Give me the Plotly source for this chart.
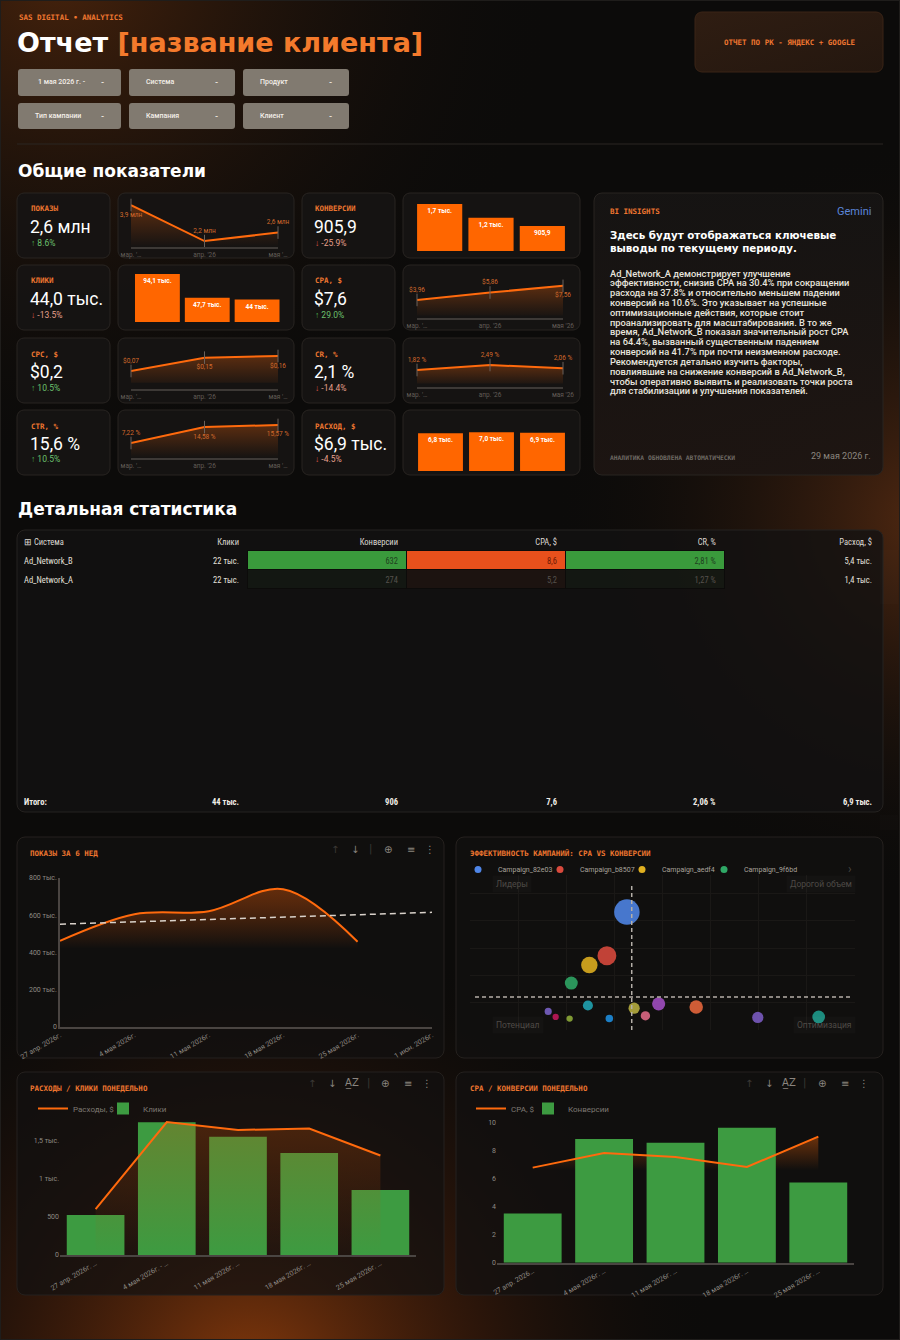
import base64
import numpy as np
import pandas as pd
import plotly.graph_objects as go

W, H = 900, 1340
def X(x): return x / W
def Y(y): return 1 - y / H

ORANGE_TXT = "#ee7630"
ORANGE = "#ff6a0d"
BAR_OR = "#ff6600"
GREEN = "#3d9b41"
MONO = "DejaVu Sans Mono"
SANS = "Roboto"
WIDE = "DejaVu Sans"
NARROW = "Liberation Sans Narrow, Roboto Condensed, Roboto"
GRAY = "#8f8a84"

# ================= DATA =================
filters_row1 = ["1 мая 2026 г. -", "Система", "Продукт"]
filters_row2 = ["Тип кампании", "Кампания", "Клиент"]

kpi_left_labels = ["ПОКАЗЫ", "КЛИКИ", "CPC, $", "CTR, %"]
kpi_left_values = ["2,6 млн", "44,0 тыс.", "$0,2", "15,6 %"]
kpi_left_deltas = [8.6, -13.5, 10.5, 10.5]
kpi_right_labels = ["КОНВЕРСИИ", "CPA, $", "CR, %", "РАСХОД, $"]
kpi_right_values = ["905,9", "$7,6", "2,1 %", "$6,9 тыс."]
kpi_right_deltas = [-25.9, 29.0, -14.4, -4.5]

months_a = ["мар. '…", "апр. '26", "мая '…"]
months_b = ["мар. '…", "апр. '26", "мая '26"]
impr_month = [3.9, 2.2, 2.6]
impr_month_lbl = ["3,9 млн", "2,2 млн", "2,6 млн"]
clicks_month = [94.1, 47.7, 44.0]
clicks_month_lbl = ["94,1 тыс.", "47,7 тыс.", "44 тыс."]
cpc_month = [0.07, 0.15, 0.16]
cpc_month_lbl = ["$0,07", "$0,15", "$0,16"]
ctr_month = [7.22, 14.58, 15.57]
ctr_month_lbl = ["7,22 %", "14,58 %", "15,57 %"]
conv_month = [1700, 1200, 905.9]
conv_month_lbl = ["1,7 тыс.", "1,2 тыс.", "905,9"]
cpa_month = [3.96, 5.86, 7.56]
cpa_month_lbl = ["$3,96", "$5,86", "$7,56"]
cr_month = [1.82, 2.49, 2.06]
cr_month_lbl = ["1,82 %", "2,49 %", "2,06 %"]
spend_month = [6.8, 7.0, 6.9]
spend_month_lbl = ["6,8 тыс.", "7,0 тыс.", "6,9 тыс."]

insight_heading = ["Здесь будут отображаться ключевые", "выводы по текущему периоду."]
insight_lines = [
    "Ad_Network_A демонстрирует улучшение",
    "эффективности, снизив CPA на 30.4% при сокращении",
    "расхода на 37.8% и относительно меньшем падении",
    "конверсий на 10.6%. Это указывает на успешные",
    "оптимизационные действия, которые стоит",
    "проанализировать для масштабирования. В то же",
    "время, Ad_Network_B показал значительный рост CPA",
    "на 64.4%, вызванный существенным падением",
    "конверсий на 41.7% при почти неизменном расходе.",
    "Рекомендуется детально изучить факторы,",
    "повлиявшие на снижение конверсий в Ad_Network_B,",
    "чтобы оперативно выявить и реализовать точки роста",
    "для стабилизации и улучшения показателей.",
]
insight_footer = "АНАЛИТИКА ОБНОВЛЕНА АВТОМАТИЧЕСКИ"
insight_date = "29 мая 2026 г."

tbl_header = ["⊞ Система", "Клики", "Конверсии", "CPA, $", "CR, %", "Расход, $"]
tbl_system = ["Ad_Network_B", "Ad_Network_A"]
tbl_clicks = ["22 тыс.", "22 тыс."]
tbl_conv = [632, 274]
tbl_cpa = [8.6, 5.2]
tbl_cr = [2.81, 1.27]
tbl_spend = ["5,4 тыс.", "1,4 тыс."]
tbl_total = ["Итого:", "44 тыс.", "906", "7,6", "2,06 %", "6,9 тыс."]

impr_weeks = ["2026-04-27", "2026-05-04", "2026-05-11", "2026-05-18", "2026-05-25"]
impr_weekly = [462000, 605000, 622000, 740000, 458000]
date_ticks = ["2026-04-27", "2026-05-04", "2026-05-11", "2026-05-18", "2026-05-25", "2026-06-01"]
date_tick_text = ["27 апр. 2026г.", "4 мая 2026г.", "11 мая 2026г.", "18 мая 2026г.", "25 мая 2026г.", "1 июн. 2026г."]
impr_y_ticks = [0, 200000, 400000, 600000, 800000]
impr_y_text = ["0", "200 тыс.", "400 тыс.", "600 тыс.", "800 тыс."]

camp_names = ["Campaign_82e03", "Campaign_b8507", "Campaign_aedf4", "Campaign_9f6bd",
              "Campaign_3c1a7", "Campaign_7d20e", "Campaign_e41b9", "Campaign_5a8f2",
              "Campaign_c06d4", "Campaign_19be3", "Campaign_f2c58", "Campaign_6e9a1",
              "Campaign_d7435", "Campaign_0b6fc", "Campaign_a93e8"]
camp_cpa = [6.52, 5.69, 4.96, 4.21, 4.90, 3.25, 3.56, 4.14, 5.79, 6.82, 7.29, 7.84, 9.40, 11.96, 14.49]
camp_conv = [216, 136, 119, 86, 45, 34, 24, 21, 21, 40, 26, 48, 42, 23, 24]
quadrant_labels = ["Лидеры", "Дорогой объем", "Потенциал", "Оптимизация"]

week_cats = ["27 апр. – 3 мая", "4 – 10 мая", "11 – 17 мая", "18 – 24 мая", "25 – 31 мая"]
week_lbl_spend = ["27 апр. 2026г. …", "4 мая 2026г. - …", "11 мая 2026г. …", "18 мая 2026г. …", "25 мая 2026г. …"]
week_lbl_cpa = ["27 апр. 2026…", "4 мая 2026г. …", "11 мая 2026г. …", "18 мая 2026г. …", "25 мая 2026г. …"]
spend_weekly = [605, 1750, 1645, 1665, 1309]
clicks_weekly = [3850, 12750, 11350, 9800, 6250]
cpa_weekly = [6.79, 7.84, 7.55, 6.84, 9.0]
conv_weekly = [88, 221, 214, 241, 143]
spend_y_ticks = [0, 500, 1000, 1500]
spend_y_text = ["0", "500", "1 тыс.", "1,5 тыс."]
cpa_y_ticks = [0, 2, 4, 6, 8, 10]

# ================= BACKGROUND (decor only) =================
def rr(x0, y0, x1, y1, r, fill, stroke="none", sw=1, op=1.0):
    return (f'<rect x="{x0}" y="{y0}" width="{x1-x0}" height="{y1-y0}" rx="{r}" ry="{r}" '
            f'fill="{fill}" fill-opacity="{op}" stroke="{stroke}" stroke-width="{sw}"/>')

svg = ['<svg xmlns="http://www.w3.org/2000/svg" width="900" height="1340" viewBox="0 0 900 1340" preserveAspectRatio="none">',
       '<defs>',
       '<radialGradient id="gbl" gradientUnits="userSpaceOnUse" cx="250" cy="1380" r="470">'
       '<stop offset="0" stop-color="#8c3c0c" stop-opacity="0.95"/>'
       '<stop offset="0.5" stop-color="#52220a" stop-opacity="0.45"/>'
       '<stop offset="1" stop-color="#0c0b0a" stop-opacity="0"/></radialGradient>',
       '<radialGradient id="gr" gradientUnits="userSpaceOnUse" cx="930" cy="520" r="380">'
       '<stop offset="0" stop-color="#5e2e12" stop-opacity="0.85"/>'
       '<stop offset="1" stop-color="#0c0b0a" stop-opacity="0"/></radialGradient>',
       '<radialGradient id="gtl" gradientUnits="userSpaceOnUse" cx="60" cy="-30" r="500">'
       '<stop offset="0" stop-color="#4a240c" stop-opacity="0.95"/>'
       '<stop offset="1" stop-color="#0c0b0a" stop-opacity="0"/></radialGradient>',
       '<linearGradient id="gins" x1="0" y1="0" x2="0" y2="1">'
       '<stop offset="0" stop-color="#161413"/><stop offset="1" stop-color="#1d1512"/></linearGradient>',
       '<linearGradient id="gbadge" x1="0" y1="0" x2="1" y2="1">'
       '<stop offset="0" stop-color="#2f1d12"/><stop offset="1" stop-color="#24170f"/></linearGradient>',
       '</defs>',
       '<rect width="900" height="1340" fill="#0c0b0a"/>',
       '<rect width="900" height="1340" fill="url(#gtl)"/>',
       '<rect width="900" height="1340" fill="url(#gr)"/>',
       '<rect width="900" height="1340" fill="url(#gbl)"/>',
       '<rect x="0.5" y="0.5" width="899" height="1339" fill="none" stroke="#1f1d1b" stroke-width="1"/>']
for row_y, row in [((69, 96), filters_row1), ((103, 129), filters_row2)]:
    for (bx0, bx1) in [(18, 121), (129, 235), (243, 349)]:
        svg.append(rr(bx0, row_y[0], bx1, row_y[1], 3, "#817a70"))
svg.append(rr(695, 12, 883, 72, 7, "url(#gbadge)", "#3a2416", 1))
svg.append('<line x1="17" y1="144" x2="883" y2="144" stroke="#2a2623" stroke-width="1"/>')
for top in [193, 265, 338, 410]:
    for (cx0, cx1) in [(17, 110), (118, 294), (302, 395), (403, 580)]:
        svg.append(rr(cx0, top, cx1, top + 65, 7, "#161413", "#282421", 1, 0.9))
svg.append(rr(594, 193, 883, 475, 8, "url(#gins)", "#282421", 1, 0.95))
svg.append(rr(17, 530, 883, 812, 8, "#131211", "#252220", 1, 0.8))
for (px0, py0, px1, py1) in [(17, 837, 444, 1058), (456, 837, 883, 1058), (17, 1072, 444, 1295), (456, 1072, 883, 1295)]:
    svg.append(rr(px0, py0, px1, py1, 8, "#121110", "#25211e", 1, 0.72))
svg.append('</svg>')
svg_b64 = base64.b64encode("".join(svg).encode("utf-8")).decode("ascii")

# ================= FIGURE =================
fig = go.Figure()
layout = {}
ann = []

def txt(x, y, s, size=8, color="#ffffff", family=SANS, xa="left", ya="middle", weight="normal", bg=None):
    d = dict(x=X(x), y=Y(y), xref="paper", yref="paper", text=s, showarrow=False,
             xanchor=xa, yanchor=ya, align="left" if xa == "left" else ("right" if xa == "right" else "center"),
             font=dict(size=size, color=color, family=family, weight=weight))
    if bg:
        d["bgcolor"] = bg
        d["borderpad"] = 3
    ann.append(d)

# header
txt(17, 17, "SAS DIGITAL • ANALYTICS", 7.5, ORANGE_TXT, MONO, weight="bold")
txt(15, 42, "Отчет <span style='color:#f47a2c'>[название клиента]</span>", 27, "#ffffff", WIDE, weight="bold")
for row_y, row in [(82.5, filters_row1), (116, filters_row2)]:
    for (bx0, bx1), s in zip([(18, 121), (129, 235), (243, 349)], row):
        if s.startswith("1 мая"):
            txt(36, row_y, s, 7, "#f4efe9", SANS, weight=500)
        else:
            txt(bx0 + 15, row_y, s, 7, "#f4efe9", SANS, weight=500)
        txt(bx1 - 19, row_y, "-", 8, "#f4efe9", SANS, xa="center", weight="bold")
txt(789, 42, "ОТЧЕТ ПО РК - ЯНДЕКС + GOOGLE", 7.5, ORANGE_TXT, MONO, xa="center", weight="bold")
txt(16, 171, "Общие показатели", 17, "#ffffff", WIDE, weight="bold")
txt(16, 509, "Детальная статистика", 17, "#ffffff", WIDE, weight="bold")

rows_top = [193, 265, 338, 410]
for x0, labels, values, deltas in [(29, kpi_left_labels, kpi_left_values, kpi_left_deltas),
                                   (313, kpi_right_labels, kpi_right_values, kpi_right_deltas)]:
    for top, lab, val, d in zip(rows_top, labels, values, deltas):
        txt(x0, top + 16, lab, 7.5, ORANGE_TXT, MONO, weight="bold")
        txt(x0 - 1, top + 34, val, 17.5, "#ffffff", SANS)
        if d >= 0:
            txt(x0, top + 49.5, f"<span style='color:#4caf50'>↑</span> {d:.1f}%", 8.5, "#6cc06e", SANS)
        else:
            txt(x0, top + 49.5, f"<span style='color:#e05a4a'>↓</span> {d:.1f}%", 8.5, "#e6a08c", SANS)

def add_line_spark(n, cats, vals, labels, positions, xpx, ypx, yr):
    fig.add_trace(go.Scatter(
        x=cats, y=vals, xaxis=f"x{n}", yaxis=f"y{n}", mode="lines+markers+text",
        line=dict(color=ORANGE, width=2),
        marker=dict(symbol="line-ns", size=9, color="#6a615a", line=dict(color="#6a615a", width=1)),
        text=labels, textposition=positions,
        textfont=dict(size=6.5, color="#d2692c", family=SANS),
        fill="tozeroy",
        fillgradient=dict(type="vertical",
                          colorscale=[[0, "rgba(255,106,13,0)"], [1, "rgba(255,106,13,0.3)"]],
                          start=yr[0], stop=max(vals)),
        cliponaxis=False, showlegend=False, hoverinfo="skip"))
    layout[f"xaxis{n}"] = dict(domain=[X(xpx[0]), X(xpx[1])], anchor=f"y{n}", type="category",
                               range=[0, len(cats) - 1], showline=True, linecolor="#3d3936", linewidth=1.5,
                               ticks="", tickfont=dict(size=6.5, color="#625c57", family=SANS),
                               showgrid=False, zeroline=False, fixedrange=True)
    layout[f"yaxis{n}"] = dict(domain=[Y(ypx[1]), Y(ypx[0])], anchor=f"x{n}", range=list(yr),
                               visible=False, fixedrange=True)

def add_bar_spark(n, cats, vals, labels, xpx, ypx, yr, width):
    fig.add_trace(go.Bar(
        x=cats, y=vals, xaxis=f"x{n}", yaxis=f"y{n}", width=width,
        marker=dict(color=BAR_OR, line=dict(width=0)),
        text=labels, textposition="inside", insidetextanchor="end", textangle=0,
        textfont=dict(size=6.5, color="#ffffff", family=SANS, weight="bold"),
        showlegend=False, hoverinfo="skip"))
    layout[f"xaxis{n}"] = dict(domain=[X(xpx[0]), X(xpx[1])], anchor=f"y{n}", type="category",
                               range=[-0.5, len(cats) - 0.5], visible=False, fixedrange=True)
    layout[f"yaxis{n}"] = dict(domain=[Y(ypx[1]), Y(ypx[0])], anchor=f"x{n}", range=list(yr),
                               visible=False, fixedrange=True)

add_line_spark(1, months_a, impr_month, impr_month_lbl, ["bottom center", "top center", "top center"],
               (131, 278), (201, 247), (1.92, 4.09))
add_bar_spark(2, months_a, clicks_month, clicks_month_lbl, (132.5, 282), (268, 322), (0, 106), 0.9)
add_line_spark(3, months_a, cpc_month, cpc_month_lbl, ["top center", "bottom center", "bottom center"],
               (131, 278), (346, 389), (-0.038, 0.22))
add_line_spark(4, months_a, ctr_month, ctr_month_lbl, ["top center", "bottom center", "bottom center"],
               (131, 278), (418, 458), (0.26, 18.8))
add_bar_spark(5, months_b, conv_month, conv_month_lbl, (414, 568), (198, 251), (0, 1920), 0.88)
add_line_spark(6, months_b, cpa_month, cpa_month_lbl, ["top center", "top center", "bottom center"],
               (417, 563), (274, 318), (-0.67, 10.6))
add_line_spark(7, months_b, cr_month, cr_month_lbl, ["top center", "top center", "top center"],
               (417, 563), (346, 387), (-0.46, 5.04))
add_bar_spark(8, months_b, spend_month, spend_month_lbl, (415, 568), (425, 471), (0, 8.3), 0.88)

txt(608, 211, "BI INSIGHTS", 7.5, ORANGE_TXT, MONO, weight="bold")
txt(873, 211, "Gemini", 11, "#5b86da", SANS, xa="right")
for i, s in enumerate(insight_heading):
    txt(608, 235 + i * 13, s, 10.3, "#ffffff", WIDE, weight="bold")
for i, s in enumerate(insight_lines):
    txt(608, 273 + i * 9.83, s, 9.3, "#e8e4de", SANS, weight=500)
txt(608, 457, insight_footer, 6.3, "#6f6a64", MONO, weight="bold")
txt(873, 456, insight_date, 9, "#8a857f", SANS, xa="right")

# ================= TABLE =================
def heat(vals, rgb):
    lo, hi = min(vals), max(vals)
    out = []
    for v in vals:
        t = (v - lo) / (hi - lo) if hi > lo else 1.0
        out.append(f"rgba({rgb},{0.05 + 0.95 * t:.2f})")
    return out

def heat_font(vals, dark):
    lo, hi = min(vals), max(vals)
    return [dark if v == hi else "#55514c" for v in vals]

def fmt(v, d):
    return f"{v:.{d}f}".replace(".", ",")

clear = ["rgba(0,0,0,0)"] * len(tbl_system)
sep = ["#0c0b0a"] * len(tbl_system)
base_font = ["#e4e0da"] * len(tbl_system)
col_x = [16, 140, 247, 406, 565, 724, 880]
widths = list(np.diff(col_x))
fig.add_trace(go.Table(
    domain=dict(x=[X(col_x[0]), X(col_x[-1])], y=[Y(605), Y(531)]),
    columnwidth=widths,
    header=dict(values=tbl_header, align=["left"] + ["right"] * 5, height=19,
                fill_color="rgba(0,0,0,0)", line_color="rgba(0,0,0,0)",
                font=dict(family=NARROW, size=8.5, color="#dcd8d2")),
    cells=dict(values=[tbl_system, tbl_clicks, [str(v) for v in tbl_conv],
                       [fmt(v, 1) for v in tbl_cpa], [fmt(v, 2) + " %" for v in tbl_cr], tbl_spend],
               align=["left"] + ["right"] * 5, height=19,
               fill_color=[clear, clear, heat(tbl_conv, "58,154,60"), heat(tbl_cpa, "232,80,28"),
                           heat(tbl_cr, "58,154,60"), clear],
               line=dict(color=[clear, clear, sep, sep, sep, clear], width=1),
               font=dict(family=NARROW, size=8.5,
                         color=[base_font, base_font, heat_font(tbl_conv, "#1f3f1f"),
                                heat_font(tbl_cpa, "#6e1a06"), heat_font(tbl_cr, "#1f3f1f"), base_font]))))
fig.add_trace(go.Table(
    domain=dict(x=[X(col_x[0]), X(col_x[-1])], y=[Y(830), Y(789)]),
    columnwidth=widths,
    header=dict(values=[f"<b>{t}</b>" for t in tbl_total], align=["left"] + ["right"] * 5, height=19,
                fill_color="rgba(0,0,0,0)", line_color="rgba(0,0,0,0)",
                font=dict(family=NARROW, size=8.5, color="#f0ece6")),
    cells=dict(values=[[""] for _ in tbl_total], height=19, fill_color="rgba(0,0,0,0)",
               line_color="rgba(0,0,0,0)")))

# ================= PANEL 1 =================
TICKF = dict(size=7, color=GRAY, family=SANS)
fig.add_trace(go.Scatter(
    x=impr_weeks, y=impr_weekly, xaxis="x9", yaxis="y9", mode="lines",
    line=dict(color=ORANGE, width=2, shape="spline", smoothing=1.0),
    fill="tozeroy",
    fillgradient=dict(type="vertical", colorscale=[[0, "rgba(255,100,10,0)"], [1, "rgba(200,80,10,0.45)"]],
                      start=420000, stop=max(impr_weekly)),
    showlegend=False, hoverinfo="skip"))
days = (pd.to_datetime(impr_weeks) - pd.Timestamp(impr_weeks[0])).days.values
coef = np.polyfit(days, impr_weekly, 1)
span = (pd.Timestamp(date_ticks[-1]) - pd.Timestamp(date_ticks[0])).days
fig.add_trace(go.Scatter(
    x=[date_ticks[0], date_ticks[-1]], y=list(np.polyval(coef, [0, span])), xaxis="x9", yaxis="y9",
    mode="lines", line=dict(color="#d9d2ca", width=1.5, dash="6px,4px"), showlegend=False, hoverinfo="skip"))
layout["xaxis9"] = dict(domain=[X(60), X(432)], anchor="y9", type="date",
                        range=[date_ticks[0], date_ticks[-1]], tickvals=date_ticks, ticktext=date_tick_text,
                        tickangle=-30, tickfont=TICKF, showline=True, linecolor="#4a4542", linewidth=1.5,
                        ticks="", showgrid=False, zeroline=False, fixedrange=True, automargin=False)
layout["yaxis9"] = dict(domain=[Y(1027), Y(878)], anchor="x9", range=[0, 800000], tickvals=impr_y_ticks,
                        ticktext=impr_y_text, tickfont=TICKF, showline=True, linecolor="#4a4542",
                        linewidth=1.5, ticks="", showgrid=False, zeroline=False, fixedrange=True)
txt(28, 853, "ПОКАЗЫ ЗА 6 НЕД", 7.5, ORANGE_TXT, MONO, weight="bold")

# ================= PANEL 2 =================
spend_c = np.array(camp_cpa) * np.array(camp_conv)
camp_colors = ["#4f86e8", "#d94a3d", "#e0b020", "#2fa866", "#20a6b5", "#7a63c9", "#c2185b", "#8fae3a",
               "#1e90e0", "#b8b040", "#e06a88", "#a24fc4", "#e8683c", "#7b5cc4", "#1e9e8e"]
fig.add_trace(go.Scatter(
    x=camp_cpa, y=camp_conv, xaxis="x10", yaxis="y10", mode="markers",
    marker=dict(size=spend_c, sizemode="area", sizeref=4.34, color=camp_colors, opacity=0.88,
                line=dict(width=0)),
    text=camp_names, showlegend=False, hoverinfo="text"))
for i in range(4):
    fig.add_trace(go.Scatter(x=[None], y=[None], xaxis="x10", yaxis="y10", mode="markers",
                             marker=dict(size=7, color=camp_colors[i]), name=camp_names[i],
                             legend="legend", legendrank=10 + i, showlegend=True))

def spacer(leg, xa, ya):
    # invisible trailing entry that keeps the last legend label from being clipped
    fig.add_trace(go.Scatter(x=[None], y=[None], xaxis=xa, yaxis=ya, mode="markers",
                             marker=dict(size=1, color="rgba(0,0,0,0)"), name=" ",
                             legend=leg, legendrank=5000, showlegend=True))
spacer("legend", "x10", "y10")
layout["xaxis10"] = dict(domain=[X(470), X(855)], anchor="y10", range=[0, 16], dtick=2,
                         showgrid=True, gridcolor="#1a1816", showticklabels=False, zeroline=False,
                         showline=False, ticks="", fixedrange=True)
layout["yaxis10"] = dict(domain=[Y(1030), Y(875)], anchor="x10", range=[0, 284], dtick=50,
                         showgrid=True, gridcolor="#1a1816", showticklabels=False, zeroline=False,
                         showline=False, ticks="", fixedrange=True)
shapes = [
    dict(type="line", xref="x10", yref="paper", x0=float(np.mean(camp_cpa)), x1=float(np.mean(camp_cpa)),
         y0=Y(1030), y1=Y(884), line=dict(color="#b5afa8", width=1.5, dash="4px,3px")),
    dict(type="line", xref="paper", yref="y10", x0=X(475), x1=X(852),
         y0=float(np.mean(camp_conv)), y1=float(np.mean(camp_conv)),
         line=dict(color="#b5afa8", width=1.5, dash="4px,3px")),
]
txt(468, 853, "ЭФФЕКТИВНОСТЬ КАМПАНИЙ: CPA VS КОНВЕРСИИ", 7.5, ORANGE_TXT, MONO, weight="bold")
qcol = "#4e4a46"
txt(492, 884, quadrant_labels[0], 8.5, qcol, SANS, bg="rgba(255,255,255,0.02)")
txt(856, 884, quadrant_labels[1], 8.5, qcol, SANS, xa="right", bg="rgba(255,255,255,0.02)")
txt(492, 1025, quadrant_labels[2], 8.5, qcol, SANS, bg="rgba(255,255,255,0.02)")
txt(856, 1025, quadrant_labels[3], 8.5, qcol, SANS, xa="right", bg="rgba(255,255,255,0.02)")
txt(850, 869, "›", 12, "#4a4643", SANS, xa="center")

# ================= PANEL 3 =================
fig.add_trace(go.Bar(x=week_cats, y=clicks_weekly, xaxis="x11", yaxis="y11", width=0.81,
                     marker=dict(color=GREEN, line=dict(width=0)), name="Клики",
                     legend="legend2", legendrank=2, hoverinfo="skip"))
fig.add_trace(go.Scatter(x=week_cats, y=spend_weekly, xaxis="x11", yaxis="y12", mode="lines",
                         line=dict(width=0), fill="tozeroy",
                         fillgradient=dict(type="vertical",
                                           colorscale=[[0, "rgba(190,80,10,0)"], [1, "rgba(190,80,10,0.3)"]],
                                           start=0, stop=max(spend_weekly)),
                         showlegend=False, hoverinfo="skip"))
fig.add_trace(go.Scatter(x=week_cats, y=spend_weekly, xaxis="x11", yaxis="y12", mode="lines",
                         line=dict(color=ORANGE, width=2), name="Расходы, $",
                         legend="legend2", legendrank=1, hoverinfo="skip"))
spacer("legend2", "x11", "y11")
layout["xaxis11"] = dict(domain=[X(60), X(416)], anchor="y11", type="category", tickvals=week_cats,
                         ticktext=week_lbl_spend, tickangle=-30, tickfont=TICKF, showline=True,
                         linecolor="#4a4542", linewidth=1.5, ticks="", showgrid=False, zeroline=False,
                         fixedrange=True)
layout["yaxis11"] = dict(domain=[Y(1255), Y(1103)], anchor="x11", range=[0, 14600], visible=False,
                         fixedrange=True)
layout["yaxis12"] = dict(overlaying="y11", anchor="x11", side="left", range=[0, 2000],
                         tickvals=spend_y_ticks, ticktext=spend_y_text, tickfont=TICKF,
                         showgrid=False, zeroline=False, showline=False, ticks="", fixedrange=True)
txt(28, 1088, "РАСХОДЫ / КЛИКИ ПОНЕДЕЛЬНО", 7.5, ORANGE_TXT, MONO, weight="bold")

# ================= PANEL 4 =================
fig.add_trace(go.Scatter(x=week_cats, y=cpa_weekly, xaxis="x12", yaxis="y13", mode="lines",
                         line=dict(width=0), fill="tozeroy",
                         fillgradient=dict(type="vertical",
                                           colorscale=[[0, "rgba(190,80,10,0)"], [1, "rgba(200,85,10,0.5)"]],
                                           start=6.6, stop=max(cpa_weekly)),
                         showlegend=False, hoverinfo="skip"))
fig.add_trace(go.Bar(x=week_cats, y=conv_weekly, xaxis="x12", yaxis="y14", width=0.81,
                     marker=dict(color=GREEN, line=dict(width=0)), name="Конверсии",
                     legend="legend3", legendrank=2, hoverinfo="skip"))
fig.add_trace(go.Scatter(x=week_cats, y=cpa_weekly, xaxis="x12", yaxis="y15", mode="lines",
                         line=dict(color=ORANGE, width=2), name="CPA, $",
                         legend="legend3", legendrank=1, hoverinfo="skip"))
spacer("legend3", "x12", "y13")
layout["xaxis12"] = dict(domain=[X(497), X(854)], anchor="y13", type="category", tickvals=week_cats,
                         ticktext=week_lbl_cpa, tickangle=-30, tickfont=TICKF, showline=True,
                         linecolor="#4a4542", linewidth=1.5, ticks="", showgrid=False, zeroline=False,
                         fixedrange=True)
layout["yaxis13"] = dict(domain=[Y(1262.7), Y(1122.7)], anchor="x12", range=[0, 10], tickvals=cpa_y_ticks,
                         tickfont=TICKF, showgrid=False, zeroline=False, showline=False, ticks="",
                         fixedrange=True)
layout["yaxis14"] = dict(overlaying="y13", anchor="x12", range=[0, 250], visible=False, fixedrange=True)
layout["yaxis15"] = dict(overlaying="y13", anchor="x12", range=[0, 10], visible=False, fixedrange=True)
txt(468, 1088, "CPA / КОНВЕРСИИ ПОНЕДЕЛЬНО", 7.5, ORANGE_TXT, MONO, weight="bold")

def icons(y, items):
    for x, s, c in items:
        txt(x, y, s, 10, c, "DejaVu Sans", xa="center")
DIM, MID = "#3b3835", "#8a857f"
icons(849, [(335, "↑", DIM), (355, "↓", MID), (370, "|", DIM), (388, "⊕", MID), (411, "≡", MID), (430, "⋮", MID)])
icons(1083, [(312, "↑", DIM), (332, "↓", MID), (352, "A̲Z", MID), (368, "|", DIM), (385, "⊕", MID), (408, "≡", MID), (427, "⋮", MID)])
icons(1083, [(749, "↑", DIM), (769, "↓", MID), (789, "A̲Z", MID), (804, "|", DIM), (822, "⊕", MID), (845, "≡", MID), (864, "⋮", MID)])

LEG = dict(orientation="h", bgcolor="rgba(0,0,0,0)", xanchor="left", yanchor="top",
           font=dict(size=7.5, color="#a9a39c", family=SANS), itemclick=False, itemdoubleclick=False)
layout["legend"] = dict(LEG, x=X(458), y=Y(855), entrywidth=37,
                        font=dict(size=7, color="#a9a39c", family=SANS))
layout["legend2"] = dict(LEG, x=X(33), y=Y(1094), entrywidth=25,
                         font=dict(size=8, color="#7d7872", family=SANS))
layout["legend3"] = dict(LEG, x=X(471), y=Y(1094), entrywidth=12,
                         font=dict(size=8, color="#7d7872", family=SANS))

fig.update_layout(
    width=W, height=H, autosize=False,
    margin=dict(l=0, r=0, t=0, b=0, pad=0, autoexpand=False),
    paper_bgcolor="#0c0b0a", plot_bgcolor="rgba(0,0,0,0)",
    font=dict(family=SANS, color="#ffffff"),
    annotations=ann, shapes=shapes, hovermode=False,
    images=[dict(source="data:image/svg+xml;base64," + svg_b64, xref="paper", yref="paper",
                 x=0, y=1, sizex=1, sizey=1, xanchor="left", yanchor="top", sizing="stretch",
                 layer="below")],
    **layout)

fig.write_html("out.html", config={"displayModeBar": False})
